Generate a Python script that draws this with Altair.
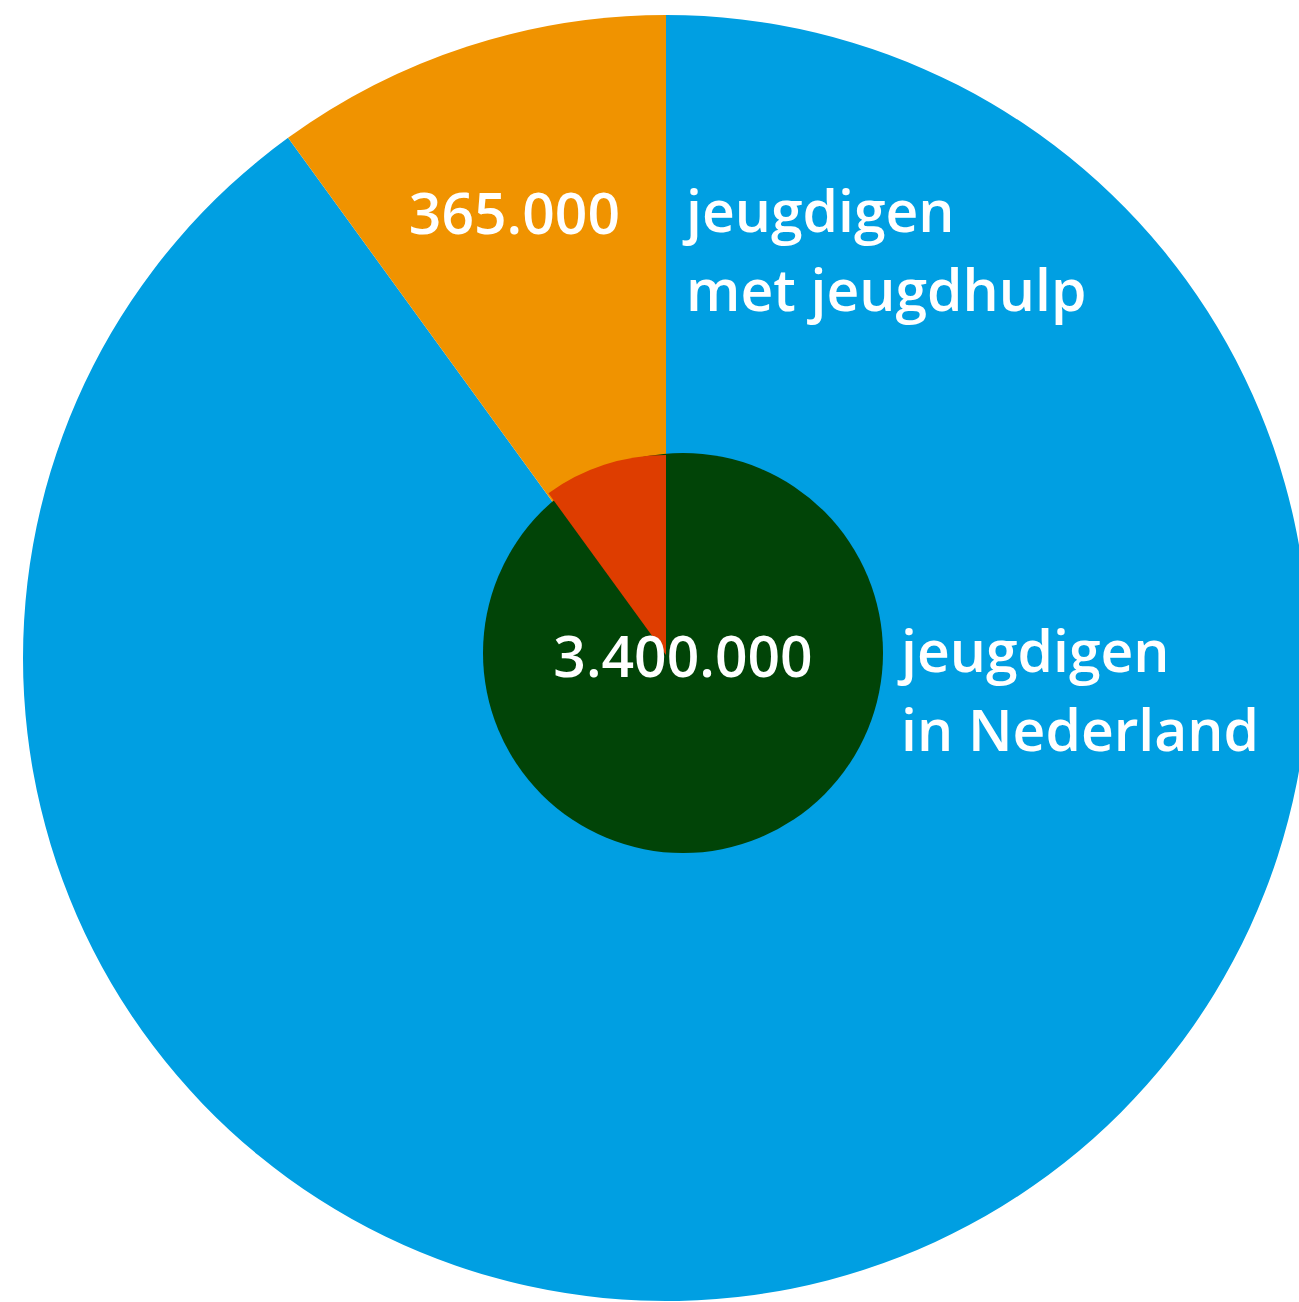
import altair as alt
import pandas as pd

# Slice shares as drawn in the picture (percent of the full circle)
categories = ["zonder jeugdhulp", "met jeugdhulp"]
shares = [90, 10]
slice_order = [0, 1]

total_label = "3.400.000"
help_label = "365.000"
total_text = "jeugdigen\nin Nederland"
help_text = "jeugdigen\nmet jeugdhulp"

BLUE = "#009fe2"
ORANGE = "#f09300"
GREEN = "#014407"
RED = "#de3d00"
FONT = "Open Sans"

pie_df = pd.DataFrame({"cat": categories, "share": shares, "ord": slice_order})
one = pd.DataFrame({"k": [0]})

CX, CY, R = 666, 658, 643

outer = alt.Chart(pie_df).mark_arc(strokeWidth=0).encode(
    x=alt.value(CX), y=alt.value(CY),
    theta=alt.Theta("share:Q", stack=True),
    order=alt.Order("ord:Q"),
    radius=alt.value(R),
    color=alt.Color("cat:N", scale=alt.Scale(domain=categories, range=[BLUE, ORANGE]), legend=None),
)

inner_circle = alt.Chart(one).mark_arc(strokeWidth=0, color=GREEN).encode(
    x=alt.value(683), y=alt.value(653),
    theta=alt.value(0), theta2=alt.value(6.2832),
    radius=alt.value(200),
)

red = alt.Chart(pie_df).mark_arc(strokeWidth=0).encode(
    x=alt.value(CX), y=alt.value(655),
    theta=alt.Theta("share:Q", stack=True),
    order=alt.Order("ord:Q"),
    radius=alt.value(200),
    color=alt.condition(alt.datum.cat == "met jeugdhulp", alt.value(RED), alt.value("transparent")),
)

def label(txt, x, y, align, size=57, weight=600):
    return alt.Chart(pd.DataFrame({"t": [txt]})).mark_text(
        font=FONT, fontSize=size, fontWeight=weight, color="white",
        align=align, baseline="alphabetic", lineBreak="\n", lineHeight=79,
    ).encode(x=alt.value(x), y=alt.value(y), text="t:N")

chart = alt.layer(
    outer, inner_circle, red,
    label(help_label, 620, 234, "right"),
    label(help_text, 686, 232, "left"),
    label(total_label, 683, 677, "center"),
    label(total_text, 901, 672, "left"),
).properties(
    width=1299, height=1302,
    autosize=alt.AutoSizeParams(type="none"),
    padding=0,
).configure_view(stroke=None)

chart.save("out.html", embed_options={"renderer": "svg", "actions": False})
